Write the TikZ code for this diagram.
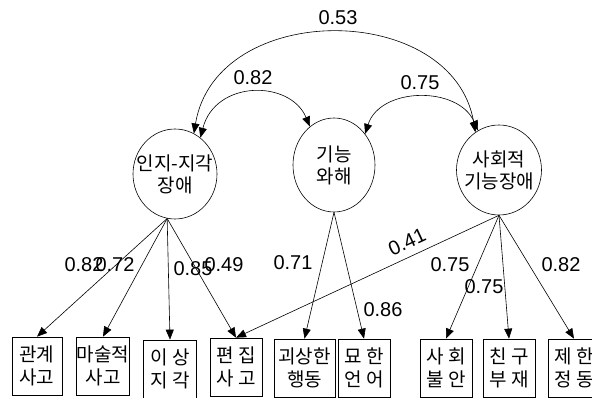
\documentclass[tikz,border=0pt]{standalone}
\usepackage{fontspec}
\setmainfont{Liberation Sans}
\newfontfamily\kr{Noto Sans CJK KR}
\usetikzlibrary{arrows.meta,shapes.geometric}
\begin{document}
\begin{tikzpicture}[x=1pt,y=-1pt,
  lat/.style={draw, ellipse, minimum width=84pt, minimum height=90pt, inner sep=0pt, line width=0.6pt},
  lattext/.style={inner sep=0pt, align=center, font=\kr\fontsize{19}{22}\selectfont},
  obs/.style={draw, rectangle, minimum width=52pt, minimum height=58pt, inner sep=0pt, line width=0.7pt, align=center, font=\kr\fontsize{19}{23}\selectfont},
  num/.style={inner sep=0pt, font=\fontsize{20}{20}\selectfont},
  arr/.style={-{Triangle[length=10pt,width=8pt]}, line width=0.6pt},
  darr/.style={{Triangle[length=10pt,width=8pt]}-{Triangle[length=10pt,width=8pt]}, line width=0.6pt}
]
\useasboundingbox (0,0) rectangle (592,398);
% latent variables
\node[lat] (c1) at (175,174) {};
\node[lattext] (t1) at (c1) {인지-지각\\장애};
\node[lat, minimum width=82pt, minimum height=94pt] (c2) at (334,165) {};
\node[lattext] (t2) at (c2) {기능\\와해};
\node[lat, minimum width=85pt] (c3) at (499,170) {};
\node[lattext] (t3) at (c3) {사회적\\기능장애};
% observed variables
\node[obs, minimum width=50pt] (b1) at (37,366) {관계\\사고};
\node[obs, minimum width=53pt] (b2) at (103,366) {마술적\\사고};
\node[obs, minimum width=53pt] (b3) at (170,369) {이 상\\지 각};
\node[obs] (b4) at (236,367) {편 집\\사 고};
\node[obs, minimum width=61pt] (b5) at (304.5,368) {괴상한\\행동};
\node[obs] (b6) at (364,368) {묘 한\\언 어};
\node[obs] (b7) at (446,368) {사 회\\불 안};
\node[obs] (b8) at (509,368) {친 구\\부 재};
\node[obs] (b9) at (574,368) {제 한\\정 동};
% loadings
\draw[arr] (c1.260) -- (b1.north);
\draw[arr] (c1.260) -- (b2.north);
\draw[arr] (c1.260) -- (b3.north);
\draw[arr] (c1.260) -- (b4.north);
\draw[arr] (c2.south) -- (b5.north);
\draw[arr] (c2.south) -- (b6.north);
\draw[arr] (c3.south) -- (b7.north);
\draw[arr] (c3.south) -- (b8.north);
\draw[arr] (c3.south) -- (b9.north);
\draw[arr] (c3.south) -- (b4.north);
% correlations
\draw[darr] (c1.65) .. controls +(22,-134) and +(-22,-132) .. (c3.122);
\draw[darr] (c1.55) .. controls +(15,-58) and +(-20,-47) .. (c2.122);
\draw[darr] (c2.45) .. controls +(15,-47) and +(-20,-45) .. (c3.118);
% labels
\node[num] (l1) at (338,18) {0.53};
\node[num] (l2) at (253,78) {0.82};
\node[num] (l3) at (420,83) {0.75};
\node[num] (l4) at (84,265) {0.82};
\node[num] (l5) at (115,265) {0.72};
\node[num] (l6) at (193,269) {0.85};
\node[num] (l7) at (224,265) {0.49};
\node[num] (l8) at (293,263) {0.71};
\node[num, rotate=25] (l9) at (407,242) {0.41};
\node[num] (l10) at (450,265) {0.75};
\node[num] (l11) at (484,287) {0.75};
\node[num] (l12) at (561,265) {0.82};
\node[num] (l13) at (383,310) {0.86};
\end{tikzpicture}
\end{document}
